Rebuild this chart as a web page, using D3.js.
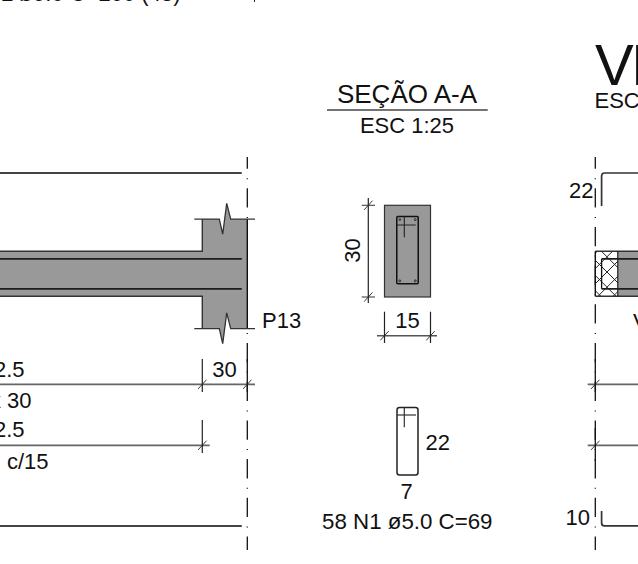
<!DOCTYPE html>
<html>
<head>
<meta charset="utf-8">
<script src="https://cdn.jsdelivr.net/npm/d3@7"></script>
<style>
html, body { margin: 0; padding: 0; background: #fff; overflow: hidden; }
text { font-family: "Liberation Sans", Arial, sans-serif; fill: #111; }
</style>
</head>
<body>
<div id="drawing"></div>
<script>
'use strict';

// all drawing values in cm
let beamHeight = [-15, 15];
let barLevels = [-10, 10];
let columnWidth = [0, 30];
let columnEnds = [-36.5, 36.5];
let longBarLevels = [-67.2, 168.1];
let barEnd = 3.7;
let hookLengths = [22, 10];
let sectionSize = [15, 30];
let stirrupSize = [7, 22];
let stirrupCorners = [[0, 0], [7, 0], [0, 22], [7, 22]];
let axisRange = [157, 550];

let titleLabels = ['SEÇÃO A-A', 'ESC 1:25'];
let cutLabels = ['VI', 'ESC'];
let elevationLabels = ['2.5', 'x 30', '2.5', 'c/15', '30', 'P13'];
let sectionLabels = ['30', '15', '22', '7', '58 N1 ø5.0 C=69'];
let topLabel = '2 ø5.0 C=260 (43)';

let svg = d3.select('div#drawing').append('svg')
	.attr('width', 638)
	.attr('height', 564)
	.style('display', 'block');

// 1:50 drawings
let elevX = d3.scaleLinear().domain([0, 30]).range([247.3, 202.3]);
let elevY = d3.scaleLinear().domain([0, 30]).range([273.8, 318.8]);
let rightX = d3.scaleLinear().domain([0, 15]).range([595.3, 617.8]);
// 1:25 drawings
let secX = d3.scaleLinear().domain([0, 15]).range([384.5, 430.5]);
let secY = d3.scaleLinear().domain([0, 30]).range([205.3, 297]);
let stirX = d3.scaleLinear().domain([0, 7]).range([397, 418]);
let stirY = d3.scaleLinear().domain([0, 22]).range([407.5, 475]);

let line = d3.line();

function draw(points, stroke, width, fill) {
	return svg.append('path')
		.attr('d', line(points))
		.attr('fill', fill || 'none')
		.attr('stroke', stroke)
		.attr('stroke-width', width);
}

function label(txt, x, y, size, anchor) {
	return svg.append('text')
		.attr('x', x)
		.attr('y', y)
		.attr('font-size', size)
		.attr('text-anchor', anchor || 'start')
		.text(txt);
}

function tick(x, y) {
	draw([[x - 4.2, y + 4.6], [x + 4.2, y - 4.6]], '#222', 0.9);
}

function roundedHook(x, y0, y1, xEnd) {
	let dir = y1 > y0 ? 1 : -1;
	svg.append('path')
		.attr('d', `M${x},${y1}L${x},${y0 + dir * 3}Q${x},${y0} ${x + 3},${y0}L${xEnd},${y0}`)
		.attr('fill', 'none')
		.attr('stroke', '#333')
		.attr('stroke-width', 1.7);
}

// center lines
[elevX(0), rightX(0)].forEach(function(x) {
	draw([[x, axisRange[0]], [x, axisRange[1]]], '#111', 1.3)
		.attr('stroke-dasharray', '19.3 9.4 1 9')
		.attr('stroke-dashoffset', 7.5);
});

// elevation, concrete
let leftPx = -5;
let topFrame = elevY(columnEnds[0]);
let botFrame = elevY(columnEnds[1]);
let colL = elevX(columnWidth[1]);
let colR = elevX(columnWidth[0]);
let beamT = elevY(beamHeight[0]);
let beamB = elevY(beamHeight[1]);
let breakX = [219.3, 222.7, 226.7, 230.7];
let breakDy = [0, 15, -15.7, 0];

let outline = [[leftPx, beamT], [colL, beamT], [colL, topFrame]]
	.concat(breakX.map((x, i) => [x, topFrame + breakDy[i]]))
	.concat([[colR, topFrame], [colR, botFrame]])
	.concat(breakX.slice().reverse().map((x, i) => [x, botFrame + breakDy.slice().reverse()[i]]))
	.concat([[colL, botFrame], [colL, beamB], [leftPx, beamB]]);
draw(outline, 'none', 0, '#999999');

draw([[leftPx, beamT], [colL, beamT], [colL, topFrame]], '#333', 1.4);
draw([[leftPx, beamB], [colL, beamB], [colL, botFrame]], '#333', 1.4);
draw([[colR, topFrame], [colR, botFrame]], '#111', 1.4);

[topFrame, botFrame].forEach(function(y) {
	let pts = [[194.3, y]].concat(breakX.map((x, i) => [x, y + breakDy[i]])).concat([[255, y]]);
	draw(pts, '#333', 1.3);
});

// elevation, bars
barLevels.forEach(function(v) {
	draw([[leftPx, elevY(v)], [elevX(barEnd), elevY(v)]], '#1c1c1c', 1.8);
});
longBarLevels.forEach(function(v) {
	draw([[leftPx, elevY(v)], [elevX(barEnd), elevY(v)]], '#444', 2);
});

// elevation, dimensions
let dimY = [384.3, 445.3];
draw([[leftPx, dimY[0]], [255, dimY[0]]], '#666', 1.8);
draw([[leftPx, dimY[1]], [209.7, dimY[1]]], '#666', 1.8);
draw([[colL, 359], [colL, 392]], '#222', 1.2);
draw([[colL, 420], [colL, 453]], '#222', 1.2);
draw([[colR, 359], [colR, 392]], '#111', 1.3);
tick(colL, dimY[0]);
tick(colR, dimY[0]);
tick(colL, dimY[1]);

label(elevationLabels[0], 24.5, 376.7, 22, 'end');
label(elevationLabels[1], 31.5, 408, 22, 'end');
label(elevationLabels[2], 24.5, 437.3, 22, 'end');
label(elevationLabels[3], 7, 469, 22);
label(elevationLabels[4], 224.5, 376.7, 22, 'middle');
label(elevationLabels[5], 262, 328.4, 22);
label(topLabel, 180.5, 1, 22, 'end');
draw([[254.5, 0], [254.5, 2]], '#222', 1);

// section A-A
label(titleLabels[0], 407, 102.7, 26, 'middle');
draw([[327, 110], [487.7, 110]], '#444', 1.5);
label(titleLabels[1], 407, 133, 22, 'middle');

svg.append('rect')
	.attr('x', secX(0))
	.attr('y', secY(0))
	.attr('width', secX(sectionSize[0]) - secX(0))
	.attr('height', secY(sectionSize[1]) - secY(0))
	.attr('fill', '#999999')
	.attr('stroke', '#333')
	.attr('stroke-width', 1.2);

let stX0 = secX(4);
let stX1 = secX(sectionSize[0] - 4);
let stY0 = secY(3.7);
let stY1 = secY(3.7 + stirrupSize[1]);
svg.append('rect')
	.attr('x', stX0)
	.attr('y', stY0)
	.attr('width', stX1 - stX0)
	.attr('height', stY1 - stY0)
	.attr('rx', 1)
	.attr('fill', 'none')
	.attr('stroke', '#111')
	.attr('stroke-width', 1.5);
draw([[stX0, 225], [415.7, 225]], '#222', 1);
draw([[404.3, stY0], [404.3, 237.3]], '#222', 1.1);

svg.selectAll('circle.bar')
	.data(stirrupCorners)
	.join('circle')
	.classed('bar', true)
	.attr('cx', d => d[0] == 0 ? stX0 + 3 : stX1 - 3)
	.attr('cy', d => d[1] == 0 ? stY0 + 3 : stY1 - 3)
	.attr('r', 1)
	.attr('fill', '#888')
	.attr('stroke', '#222')
	.attr('stroke-width', 0.8);

draw([[368.3, 198], [368.3, 303]], '#222', 1.2);
draw([[361.7, secY(0)], [375, secY(0)]], '#444', 1.1);
draw([[361.7, secY(30)], [375, secY(30)]], '#444', 1.1);
tick(368.3, secY(0));
tick(368.3, secY(30));
svg.append('text')
	.attr('transform', 'translate(360,250.5) rotate(-90)')
	.attr('font-size', 22)
	.attr('text-anchor', 'middle')
	.text(sectionLabels[0]);

draw([[377, 335.7], [437, 335.7]], '#555', 1.5);
draw([[secX(0), 311.7], [secX(0), 343]], '#222', 1.2);
draw([[secX(15), 311.7], [secX(15), 343]], '#222', 1.2);
tick(secX(0), 335.7);
tick(secX(15), 335.7);
label(sectionLabels[1], 407.5, 328, 22, 'middle');

// stirrup N1
svg.append('rect')
	.attr('x', stirX(0))
	.attr('y', stirY(0))
	.attr('width', stirX(stirrupSize[0]) - stirX(0))
	.attr('height', stirY(stirrupSize[1]) - stirY(0))
	.attr('rx', 2.5)
	.attr('fill', 'none')
	.attr('stroke', '#222')
	.attr('stroke-width', 1.5);
draw([[stirX(0), 415], [416, 415]], '#333', 1.2);
draw([[404.3, stirY(0)], [404.3, 427.3]], '#333', 1.2);
label(sectionLabels[2], 425.5, 450, 22);
label(sectionLabels[3], 406.5, 499, 22, 'middle');
label(sectionLabels[4], 407.3, 529, 22.3, 'middle');

// right elevation
let rT = beamT;
let rB = beamB;
svg.append('rect')
	.attr('x', rightX(15))
	.attr('y', rT)
	.attr('width', 30)
	.attr('height', rB - rT)
	.attr('fill', '#999999');
draw([[rightX(0), rT], [645, rT]], '#333', 1.4);
draw([[rightX(0), rB], [645, rB]], '#333', 1.4);

svg.append('defs').append('clipPath')
	.attr('id', 'hatchClip')
	.append('rect')
	.attr('x', rightX(0))
	.attr('y', rT)
	.attr('width', rightX(15) - rightX(0))
	.attr('height', rB - rT);

let hatchSteps = d3.range(-4, 12);
let hatchDrop = rB + 4.6 - rT;
let hatch = svg.append('g').attr('clip-path', 'url(#hatchClip)');
hatchSteps.forEach(function(i) {
	let x1 = 586.3 + i * 15.2;
	let x2 = 627.7 + i * 15.2;
	hatch.append('path')
		.attr('d', line([[x1, rT], [x1 + hatchDrop, rT + hatchDrop]]))
		.attr('stroke', '#222')
		.attr('stroke-width', 1);
	hatch.append('path')
		.attr('d', line([[x2, rT], [x2 - hatchDrop, rT + hatchDrop]]))
		.attr('stroke', '#222')
		.attr('stroke-width', 1);
});
draw([[rightX(0), rT], [rightX(0), rB]], '#111', 1.4);
draw([[rightX(15), rT], [rightX(15), rB]], '#111', 1.1);
draw([[rightX(4.2), elevY(barLevels[0])], [rightX(4.2), elevY(barLevels[1])]], '#111', 1.3);
barLevels.forEach(function(v) {
	draw([[rightX(4.2), elevY(v)], [645, elevY(v)]], '#1c1c1c', 1.7);
});

roundedHook(rightX(4.2), elevY(longBarLevels[0]), elevY(longBarLevels[0]) + 1.5 * hookLengths[0], 645);
roundedHook(rightX(4.2), elevY(longBarLevels[1]), elevY(longBarLevels[1]) - 1.5 * hookLengths[1], 645);

dimY.forEach(function(y) {
	draw([[587.7, y], [645, y]], '#666', 1.8);
	tick(rightX(0), y);
});
draw([[rightX(0), 359], [rightX(0), 392]], '#111', 1.3);
draw([[rightX(0), 428], [rightX(0), 461]], '#111', 1.3);

label(cutLabels[0], 595, 85, 58).attr('letter-spacing', -3);
label(cutLabels[1], 594.5, 108.3, 22);
label('V', 633, 329, 22);
label('22', 593.5, 198, 22, 'end');
label('10', 590, 525, 22, 'end');
</script>
</body>
</html>
